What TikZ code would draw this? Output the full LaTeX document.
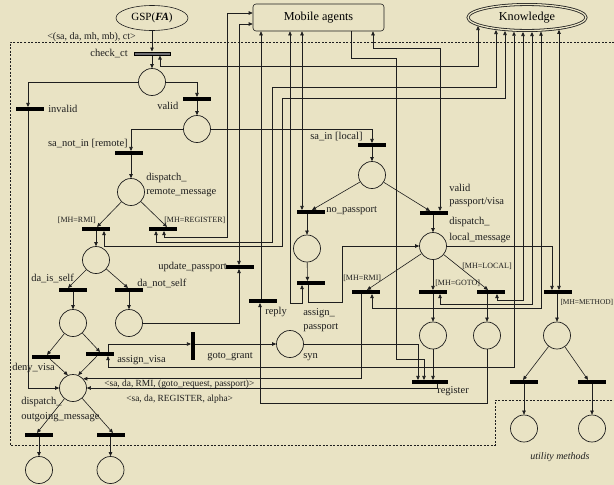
\documentclass[tikz,border=0pt]{standalone}
\usepackage{fontspec}
\setmainfont{Liberation Serif}
\usetikzlibrary{arrows.meta,shapes.geometric}
\definecolor{bg}{RGB}{233,227,196}
\definecolor{ink}{RGB}{30,30,30}
\begin{document}
\begin{tikzpicture}[x=1pt,y=-1pt,line width=0.6pt,draw=ink,
  place/.style={circle,draw,minimum size=27pt,inner sep=0pt,line width=0.7pt},
  bar/.style={rectangle,fill=black,minimum width=28pt,minimum height=3.5pt,inner sep=0pt},
  vbar/.style={rectangle,fill=black,minimum width=3.5pt,minimum height=28pt,inner sep=0pt},
  lbl/.style={font=\fontsize{10.5}{12}\selectfont,inner sep=0pt,text=ink},
  small/.style={font=\fontsize{8}{9}\selectfont,inner sep=0pt,text=ink},
  msg/.style={font=\fontsize{9.4}{11}\selectfont,inner sep=0pt,text=ink},
  arr/.style={-{Triangle[length=4pt,width=3.5pt]}},
  darr/.style={{Triangle[length=4pt,width=3.5pt]}-{Triangle[length=4pt,width=3.5pt]}}]
\fill[bg] (0,0) rectangle (614,485);
\useasboundingbox (0,0) rectangle (614,485);
% frame
\draw[dash pattern=on 2pt off 1.5pt,line width=0.6pt] (614,42) -- (10,42) -- (10,445) -- (495,445) -- (495,400) -- (614,400);
% big nodes
\node[ellipse,draw,minimum width=72pt,minimum height=25pt,inner sep=0pt,font=\fontsize{11}{13}\selectfont] (GSP) at (152,18) {GSP(\textbf{\textit{FA}})};
\node[draw,rounded corners=3pt,minimum width=131pt,minimum height=27pt,inner sep=0pt,font=\fontsize{12.2}{14}\selectfont] (MA) at (318.5,17.5) {Mobile agents};
\node[ellipse,draw,double=bg,line width=0.8pt,double distance=1.3pt,minimum width=118pt,minimum height=26pt,inner sep=0pt,font=\fontsize{12.2}{14}\selectfont] (K) at (527,17.5) {Knowledge};
% transitions
\node[bar,minimum width=36pt,fill={rgb,255:red,110;green,110;blue,115},draw=black,line width=0.5pt] (checkct) at (152,53.5) {};
\node[bar] (invalid) at (30,109) {};
\node[bar] (valid) at (197,99) {};
\node[bar] (sanotin) at (129,153) {};
\node[bar] (rmiR) at (96,229) {};
\node[bar] (regR) at (163,229) {};
\node[bar] (updpass) at (240,267) {};
\node[bar] (daself) at (73,290) {};
\node[bar] (danot) at (129,290) {};
\node[bar] (deny) at (46,357) {};
\node[bar] (assignvisa) at (100,354) {};
\node[vbar] (gotogrant) at (193,346) {};
\node[bar] (reply) at (263,301) {};
\node[bar] (sain) at (372,145) {};
\node[bar] (nopass) at (310.5,212) {};
\node[bar] (assignpass) at (310.5,283) {};
\node[bar] (validpv) at (434,213) {};
\node[bar] (rmiL) at (366,292) {};
\node[bar] (gotoL) at (433,292) {};
\node[bar] (localL) at (490.5,292) {};
\node[bar] (methodL) at (558,292) {};
\node[bar,minimum width=36pt] (register) at (430,382) {};
\node[bar] (um1) at (524,382) {};
\node[bar] (um2) at (592,382) {};
\node[bar] (out1) at (39,435) {};
\node[bar] (out2) at (110.5,435) {};
% places
\node[place] (p1) at (152,82) {};
\node[place] (p2) at (197,129) {};
\node[place] (drm) at (131,192) {};
\node[place] (prmi) at (96,260) {};
\node[place] (pself) at (73,323) {};
\node[place] (pnot) at (129,323) {};
\node[place] (dom) at (73,388) {};
\node[place] (o1) at (39,470) {};
\node[place] (o2) at (110.5,470) {};
\node[place] (psain) at (372,175) {};
\node[place] (pnopass) at (307,248.5) {};
\node[place] (syn) at (290,344) {};
\node[place] (dlm) at (433,246) {};
\node[place] (pgoto) at (433,335.5) {};
\node[place] (plocal) at (487,335.5) {};
\node[place] (pmethod) at (557,335.5) {};
\node[place] (u1) at (524,428.5) {};
\node[place] (u2) at (592,428.5) {};
% labels
\node[lbl,font=\fontsize{10}{12}\selectfont,anchor=west] (lsig) at (47,37) {<(sa, da, mh, mb), ct>};
\node[lbl,anchor=east] (lcheck) at (128,54) {check\_ct};
\node[lbl,anchor=west] (linvalid) at (48,109) {invalid};
\node[lbl,anchor=west] (lvalid) at (157,106) {valid};
\node[lbl,anchor=east] (lsanotin) at (128,144) {sa\_not\_in [remote]};
\node[lbl,anchor=west] (ldrm1) at (146,178) {dispatch\_};
\node[lbl,anchor=west] (ldrm2) at (146,193) {remote\_message};
\node[small,anchor=east] (lrmiR) at (96,220) {[MH=RMI]};
\node[small,anchor=west] (lregR) at (164,220) {[MH=REGISTER]};
\node[lbl,anchor=east] (lupd) at (227,267) {update\_passport};
\node[lbl,anchor=west] (ldaself) at (31,278) {da\_is\_self};
\node[lbl,anchor=west] (ldanot) at (137,283) {da\_not\_self};
\node[lbl,anchor=west] (ldeny) at (12,368) {deny\_visa};
\node[lbl,anchor=west] (lassignv) at (117,360) {assign\_visa};
\node[lbl,anchor=west] (lgoto) at (207,357) {goto\_grant};
\node[lbl,anchor=west] (lreply) at (265,312) {reply};
\node[lbl,anchor=west] (lap1) at (303,313) {assign\_};
\node[lbl,anchor=west] (lap2) at (303,328) {passport};
\node[lbl,anchor=west] (lsyn) at (303,357) {syn};
\node[lbl,anchor=west] (lsain) at (310,137) {sa\_in [local]};
\node[lbl,anchor=west] (lnopass) at (326,211) {no\_passport};
\node[lbl,anchor=west] (lvpv1) at (449,188) {valid};
\node[lbl,anchor=west] (lvpv2) at (449,202) {passport/visa};
\node[lbl,anchor=west] (ldlm1) at (449,222) {dispatch\_};
\node[lbl,anchor=west] (ldlm2) at (449,238) {local\_message};
\node[small,anchor=west] (lrmiL) at (343,278) {[MH=RMI]};
\node[small,anchor=west] (lgotoL) at (435,283) {[MH=GOTO]};
\node[small,anchor=west] (llocalL) at (462,266) {[MH=LOCAL]};
\node[small,font=\fontsize{7.4}{9}\selectfont,anchor=east] (lmethodL) at (613.5,302) {[MH=METHOD]};
\node[lbl,anchor=west] (lregister) at (437,391) {register};
\node[msg,anchor=west] (lrmimsg) at (104,384) {<sa, da, RMI, (goto\_request, passport)>};
\node[msg,anchor=west] (lregmsg) at (126,399) {<sa, da, REGISTER, alpha>};
\node[lbl,anchor=west] (ldom1) at (21,402) {dispatch\_};
\node[lbl,anchor=west] (ldom2) at (21,417) {outgoing\_message};
\node[lbl,font=\fontsize{10}{12}\selectfont\itshape] (lutil) at (560,457) {utility methods};
% connectors
\draw[arr] (GSP.south) -- (checkct.north);
\draw[darr] ([shift={(-49,8.5)}]K.center) -- (478,66) -- (160,66) -- ([xshift=8]checkct.south);
\draw[arr] (checkct.south) -- (p1);
\draw[arr] (p1.west) -| ([xshift=-2]invalid.north);
\draw[arr] (p1.east) -| (valid.north);
\draw[arr] (valid.south) -- (p2);
\draw[arr] (p2.west) -| ([xshift=2]sanotin.north);
\draw[arr] (p2.east) -| (sain.north);
\draw[arr] ([xshift=2]sanotin.south) -- (drm);
\draw[arr] (drm) -- ([xshift=1]rmiR.north);
\draw[arr] (drm) -- ([xshift=4]regR.north);
\draw[arr] (rmiR.south) -- (prmi);
\draw[darr] ([shift={(-22,13.5)}]K.center) -- (505,98) -- (282,98) -- (282,246) -- (104,246) -- ([xshift=8]rmiR.south);
\draw[darr] ([shift={(-31,12.5)}]K.center) -- (496,87) -- (272,87) -- (272,242) -- (156,242) -- ([xshift=-7]regR.south);
\draw[darr] (0,13 -| MA.west) -- (227,13) -- (227,237) -- (164,237) -- ([xshift=1]regR.south);
\draw[darr] (0,24 -| MA.west) -- (239,24) -- ([xshift=-1]updpass.north);
\draw[arr] (pnot.east) -| ([xshift=-1]updpass.south);
\draw[arr] (prmi) -- ([xshift=-5]daself.north);
\draw[arr] (prmi) -- ([xshift=-1]danot.north);
\draw[arr] (daself.south) -- (pself);
\draw[arr] (danot.south) -- (pnot);
\draw[arr] (pself) -- ([xshift=1]deny.north);
\draw[arr] (pself) -- (assignvisa.north);
\draw[arr] ([xshift=4]deny.south) -- (dom.112);
\draw[arr] ([xshift=-3]assignvisa.south) -- (dom.68);
\draw[arr] ([xshift=-2]invalid.south) |- (dom.west);
\draw[arr] ([xshift=8]assignvisa.north) -- (108,344) -- (0,344 -| gotogrant.west);
\draw[arr] (0,344 -| gotogrant.east) -- (syn.west);
\draw[darr] ([shift={(-13,14.2)}]K.center) -- (514,367) -- (108,367) -- ([xshift=8]assignvisa.south);
\draw[arr] (syn.east) -| ([xshift=-12]register.north);
\draw[arr] (351,0 |- MA.south) -- (351,58) -- (396,58) -- (396,359) -- (424,359) -- ([xshift=-6]register.north);
\draw[arr] (pgoto) -- ([xshift=3]register.north);
\draw[arr] ([xshift=7]register.south) |- (dom.east);
\draw[arr] ([xshift=-5]rmiL.south) |- (dom.42);
\draw[darr] ([shift={(14,14.1)}]K.center) -- (541,308) -- (372,308) -- ([xshift=6]rmiL.south);
\draw[darr] ([shift={(5,14.5)}]K.center) -- (532,304) -- (440,304) -- ([xshift=7]gotoL.south);
\draw[darr] ([shift={(-4,14.5)}]K.center) -- (523,300) -- (497,300) -- ([xshift=6.5]localL.south);
\draw[darr] ([shift={(32,12.3)}]K.center) -- ([xshift=1]methodL.north);
\draw[arr] (dlm.east) -| ([xshift=-6]methodL.north);
\draw[arr] (dlm) -- ([xshift=1]rmiL.north);
\draw[arr] (dlm) -- (gotoL.north);
\draw[arr] (dlm) -- ([xshift=-2.5]localL.north);
\draw[arr] (gotoL.south) -- (pgoto);
\draw[arr] ([xshift=-3.5]localL.south) -- (plocal);
\draw[arr] ([xshift=-1]methodL.south) -- (pmethod);
\draw[arr] (pmethod) -- ([xshift=-1]um1.north);
\draw[arr] (pmethod) -- ([xshift=-4]um2.north);
\draw[arr] (um1.south) -- (u1);
\draw[arr] (um2.south) -- (u2);
\draw[arr] (plocal.south) -- (487,403) -- (260,403) -- ([xshift=-3]reply.south);
\draw[arr] ([xshift=-2]reply.north) -- (261,0 |- MA.south);
\draw[darr] (290,0 |- MA.south) -- (290,303) -- (302,303) -- ([xshift=-8.5]assignpass.south);
\draw[arr] ([xshift=-2.5]assignpass.south) |- (342,302) |- (dlm.west);
\draw[darr] (302,0 |- MA.south) -- ([xshift=-8.5]nopass.north);
\draw[arr] (psain) -- ([xshift=1.5]nopass.north);
\draw[arr] (psain) -- ([xshift=-4]validpv.north);
\draw[arr] (sain.south) -- (psain);
\draw[darr] (373,0 |- MA.south) -- (373,48) -- (440,48) -- ([xshift=6]validpv.north);
\draw[arr] ([xshift=-1]validpv.south) -- (dlm);
\draw[arr] ([xshift=-3.5]nopass.south) -- (pnopass);
\draw[arr] (pnopass) -- ([xshift=-3]assignpass.north);
\draw[arr] (dom) -- ([xshift=-2]out1.north);
\draw[arr] (dom) -- ([xshift=2.5]out2.north);
\draw[arr] (out1.south) -- (o1);
\draw[arr] (out2.south) -- (o2);
\end{tikzpicture}
\end{document}
